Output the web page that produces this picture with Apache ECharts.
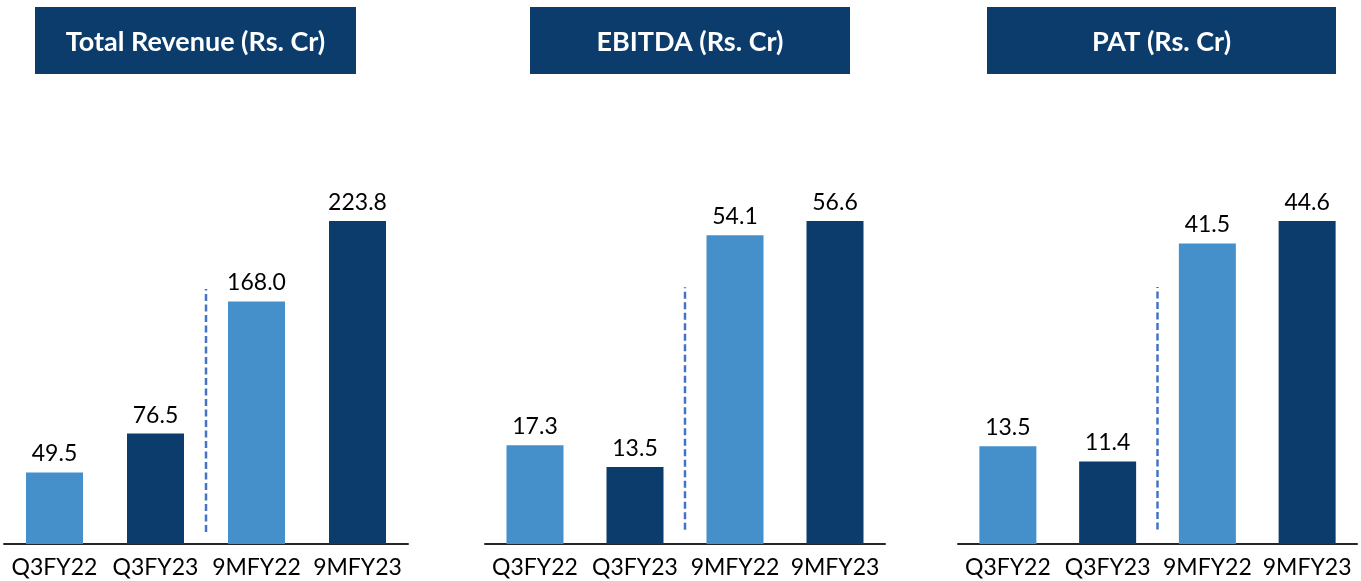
<!DOCTYPE html>
<html lang="en">
<head>
<meta charset="UTF-8">
<title>Financial Highlights</title>
<script src="https://cdn.jsdelivr.net/npm/echarts@6/dist/echarts.min.js"></script>
<style>
  html, body { margin: 0; padding: 0; background: #fff; }
  #main { width: 1361px; height: 581px; }
</style>
</head>
<body>
<div id="main"></div>
<script>
// data
const categories = ['Q3FY22', 'Q3FY23', '9MFY22', '9MFY23'];
const revenue = [49.5, 76.5, 168.0, 223.8];
const ebitda = [17.3, 13.5, 54.1, 56.6];
const pat = [13.5, 11.4, 41.5, 44.6];
const titles = ['Total Revenue (Rs. Cr)', 'EBITDA (Rs. Cr)', 'PAT (Rs. Cr)'];
// dashed separator between quarter and nine-month bars (bottom, top in value units)
const revenueSep = [8.3, 176.7];
const ebitdaSep = [2.5, 45.0];
const patSep = [2.0, 35.5];

const LIGHT = '#4590CA';
const DARK = '#0B3C6B';
const FONT = 'Lato, "Open Sans", sans-serif';
const barColors = [LIGHT, DARK, LIGHT, DARK];

const panels = [
  { values: revenue, sep: revenueSep, left: 4, width: 404, box: [35, 321] },
  { values: ebitda, sep: ebitdaSep, left: 485, width: 400, box: [530, 320] },
  { values: pat, sep: patSep, left: 958, width: 399, box: [987, 349] }
];

let chart = echarts.init(document.getElementById('main'));

let grid = [], xAxis = [], yAxis = [], series = [], graphic = [];

panels.forEach((p, i) => {
  grid.push({ left: p.left, width: p.width, top: 221, bottom: 37 });
  // category axis for the bars
  xAxis.push({
    type: 'category', gridIndex: i, data: categories,
    axisLine: { lineStyle: { color: '#262626', width: 2 } },
    axisTick: { show: false },
    axisLabel: { interval: 0, fontSize: 23, color: '#000', fontFamily: FONT, margin: 12 }
  });
  // hidden value axis used to place the separator between categories
  xAxis.push({ type: 'value', gridIndex: i, min: -0.5, max: 3.5, show: false });
  yAxis.push({ type: 'value', gridIndex: i, min: 0, max: Math.max(...p.values), show: false });

  series.push({
    type: 'bar', xAxisIndex: i * 2, yAxisIndex: i, barWidth: 57,
    data: p.values.map((v, j) => ({ value: v, itemStyle: { color: barColors[j] } })),
    label: {
      show: true, position: 'top', distance: 7,
      fontSize: 23, color: '#000', fontFamily: FONT,
      formatter: d => d.value.toFixed(1)
    },
    silent: true
  });
  series.push({
    type: 'line', xAxisIndex: i * 2 + 1, yAxisIndex: i,
    data: [[1.5, p.sep[0]], [1.5, p.sep[1]]],
    symbol: 'none', silent: true,
    lineStyle: { color: '#4472C4', width: 2.5, type: [7, 3.5] }
  });

  graphic.push({
    type: 'group', left: p.box[0], top: 7,
    children: [
      { type: 'rect', shape: { x: 0, y: 0, width: p.box[1], height: 67 }, style: { fill: DARK } },
      {
        type: 'text', x: p.box[1] / 2, y: 35,
        style: {
          text: titles[i], fill: '#fff', font: 'bold 27px ' + FONT,
          textAlign: 'center', textVerticalAlign: 'middle'
        }
      }
    ]
  });
});

let option = { animation: false, grid, xAxis, yAxis, series, graphic };
option && chart.setOption(option);
</script>
</body>
</html>
